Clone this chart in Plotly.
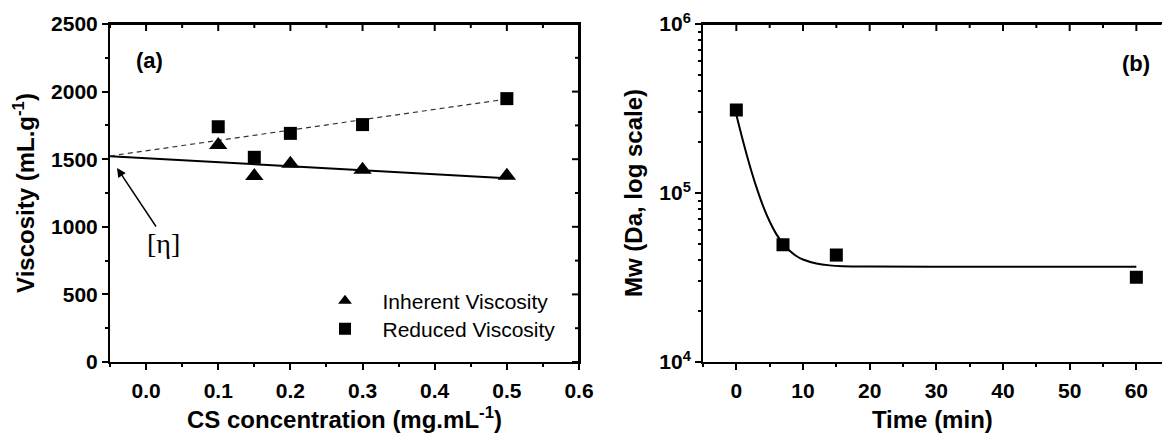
import plotly.graph_objects as go

# ---- Panel (a) data ----
conc = [0.1, 0.15, 0.2, 0.3, 0.5]
inherent = [1605, 1376, 1467, 1422, 1378]
reduced = [1740, 1514, 1691, 1756, 1948]
fit_conc = [-0.05, 0.5]
inherent_fit = [1522, 1360]
reduced_fit = [1524, 1945]

# ---- Panel (b) data ----
time_min = [0, 7, 15, 60]
mw = [310000, 49400, 42900, 31700]
fit_time = [0, 1, 2, 3, 4, 5, 6, 7, 8, 9, 10, 12, 14, 16, 20, 30, 45, 60]
mw_fit = [290000, 203000, 146000, 108700, 84000, 67800, 57100, 50100, 45500,
          42400, 40400, 38300, 37300, 36900, 36700, 36600, 36600, 36600]

x_ticks_a = [0.0, 0.1, 0.2, 0.3, 0.4, 0.5, 0.6]
y_ticks_a = [0, 500, 1000, 1500, 2000, 2500]
x_ticks_b = [0, 10, 20, 30, 40, 50, 60]
y_ticks_b = [1e4, 1e5, 1e6]
y_ticktext_b = ["10<sup>4</sup>", "10<sup>5</sup>", "10<sup>6</sup>"]
y_minor_b = [2e4, 3e4, 4e4, 5e4, 6e4, 7e4, 8e4, 9e4,
             2e5, 3e5, 4e5, 5e5, 6e5, 7e5, 8e5, 9e5]

FONT = "Liberation Sans, Arial, sans-serif"
W, H = 1164, 433

fig = go.Figure()

# Panel (a)
fig.add_trace(go.Scatter(x=fit_conc, y=inherent_fit, mode="lines",
                         line=dict(color="black", width=2), showlegend=False,
                         xaxis="x", yaxis="y", hoverinfo="skip"))
fig.add_trace(go.Scatter(x=fit_conc, y=reduced_fit, mode="lines",
                         line=dict(color="#333333", width=1.2, dash="5px,4px"),
                         showlegend=False, xaxis="x", yaxis="y", hoverinfo="skip"))
fig.add_trace(go.Scatter(x=conc, y=inherent, mode="markers", name="\u00a0\u00a0\u00a0Inherent Viscosity",
                         marker=dict(symbol="triangle-up", size=16, color="black"),
                         xaxis="x", yaxis="y", legend="legend"))
fig.add_trace(go.Scatter(x=conc, y=reduced, mode="markers", name="\u00a0\u00a0\u00a0Reduced Viscosity",
                         marker=dict(symbol="square", size=13, color="black"),
                         xaxis="x", yaxis="y", legend="legend2"))

# Panel (b)
fig.add_trace(go.Scatter(x=fit_time, y=mw_fit, mode="lines", line=dict(color="black", width=2, shape="spline"),
                         showlegend=False, xaxis="x2", yaxis="y2", hoverinfo="skip"))
fig.add_trace(go.Scatter(x=time_min, y=mw, mode="markers",
                         marker=dict(symbol="square", size=13, color="black"),
                         showlegend=False, xaxis="x2", yaxis="y2"))

dom_y = [71 / H, 409 / H]
dom_xa = [110 / W, 579 / W]
dom_xb = [703 / W, 0.998]
PH = (dom_y[1] - dom_y[0]) * H          # plot height in px
PWA = (dom_xa[1] - dom_xa[0]) * W       # panel (a) width in px

tickfont = dict(family=FONT, size=21, color="black", weight="bold")
titlefont = dict(family=FONT, size=24, color="black", weight="bold")
common = dict(showline=True, linecolor="black", linewidth=2, showgrid=False, zeroline=False,
              ticklen=6, tickwidth=2, tickcolor="black", tickfont=tickfont, automargin=False)


def minor(dt=None, vals=None):
    d = dict(ticks="outside", ticklen=3, tickwidth=1.5, tickcolor="black")
    if vals is not None:
        d.update(tickmode="array", tickvals=vals)
    else:
        d.update(dtick=dt, tick0=0)
    return d


fig.update_layout(
    width=W, height=H, margin=dict(l=0, r=0, t=0, b=0, autoexpand=False),
    paper_bgcolor="white", plot_bgcolor="white",
    font=dict(family=FONT, color="black"),
    xaxis=dict(domain=dom_xa, anchor="y", range=[-0.05, 0.6], tickvals=x_ticks_a, tickformat=".1f",
               ticks="outside", minor=minor(0.05), ticklabelstandoff=3, mirror=True,
               title=dict(text="CS concentration (mg.mL<sup>-1</sup>)", font=titlefont, standoff=14), **common),
    yaxis=dict(domain=dom_y, anchor="x", range=[0, 2500], tickvals=y_ticks_a,
               ticks="outside", minor=minor(250), mirror=True,
               title=dict(text="Viscosity (mL.g<sup>-1</sup>)", font=titlefont, standoff=10), **common),
    xaxis2=dict(domain=dom_xb, anchor="y2", range=[-5, 63.8], tickvals=x_ticks_b,
                ticks="outside", minor=minor(5), ticklabelstandoff=3, mirror=True,
                title=dict(text="Time (min)", font=titlefont, standoff=14), **common),
    yaxis2=dict(domain=dom_y, anchor="x2", type="log", range=[4, 6], tickvals=y_ticks_b, ticktext=y_ticktext_b,
                ticks="outside", minor=minor(vals=y_minor_b),
                title=dict(text="Mw (Da, log scale)", font=titlefont, standoff=10), **common),
    legend=dict(x=325 / W, y=1 - 301 / H, xanchor="left", yanchor="middle", bgcolor="rgba(0,0,0,0)",
                font=dict(family=FONT, size=21, color="black"), itemsizing="constant"),
    legend2=dict(x=325 / W, y=1 - 329 / H, xanchor="left", yanchor="middle", bgcolor="rgba(0,0,0,0)",
                 font=dict(family=FONT, size=21, color="black"), itemsizing="constant"),
    showlegend=True,
)

# Frame lines on top / right (shapes in axis-domain coordinates, above traces)
line_style = dict(color="black", width=2)
fig.add_shape(type="line", xref="x domain", yref="y domain", x0=0, x1=1, y0=1, y1=1,
              line=line_style, layer="above")
fig.add_shape(type="line", xref="x domain", yref="y domain", x0=1, x1=1, y0=0, y1=1,
              line=line_style, layer="above")
fig.add_shape(type="line", xref="x2 domain", yref="y2 domain", x0=0, x1=1, y0=1, y1=1,
              line=line_style, layer="above")


def halfway(vals):
    step = vals[1] - vals[0]
    return [vals[0] - step / 2] + [v + step / 2 for v in vals[:-1]]


# Inward mirrored ticks (top of (a) and (b), right of (a)) from the tick lists
for v in x_ticks_a:
    fig.add_shape(type="line", xref="x", yref="y domain", x0=v, x1=v, y0=1, y1=1 - 7 / PH,
                  line=line_style, layer="above")
for v in halfway(x_ticks_a):
    fig.add_shape(type="line", xref="x", yref="y domain", x0=v, x1=v, y0=1, y1=1 - 4 / PH,
                  line=line_style, layer="above")
for v in y_ticks_a:
    fig.add_shape(type="line", xref="x domain", yref="y", x0=1, x1=1 - 7 / PWA, y0=v, y1=v,
                  line=line_style, layer="above")
for v in halfway(y_ticks_a)[1:]:
    fig.add_shape(type="line", xref="x domain", yref="y", x0=1, x1=1 - 4 / PWA, y0=v, y1=v,
                  line=line_style, layer="above")
for v in x_ticks_b:
    fig.add_shape(type="line", xref="x2", yref="y2 domain", x0=v, x1=v, y0=1, y1=1 - 7 / PH,
                  line=line_style, layer="above")
for v in halfway(x_ticks_b)[1:]:
    fig.add_shape(type="line", xref="x2", yref="y2 domain", x0=v, x1=v, y0=1, y1=1 - 4 / PH,
                  line=line_style, layer="above")

fig.add_annotation(x=150 / W, y=1 - 60 / H, xref="paper", yref="paper", text="<b>(a)</b>",
                   xanchor="center", yanchor="middle",
                   showarrow=False, font=dict(family=FONT, size=22, color="black"))
fig.add_annotation(x=1136 / W, y=1 - 63 / H, xref="paper", yref="paper", text="<b>(b)</b>",
                   xanchor="center", yanchor="middle",
                   showarrow=False, font=dict(family=FONT, size=22, color="black"))
fig.add_annotation(x=163 / W, y=1 - 243 / H, xref="paper", yref="paper", text="[η]",
                   xanchor="center", yanchor="middle",
                   showarrow=False, font=dict(family="Liberation Serif, Times New Roman, serif", size=28, color="black"))
fig.add_annotation(x=-0.0403, y=1435, xref="x", yref="y", text="", showarrow=True,
                   ax=40, ay=60, arrowhead=2, arrowsize=1.2, arrowwidth=1.5, arrowcolor="black")

fig.write_html("out.html")
